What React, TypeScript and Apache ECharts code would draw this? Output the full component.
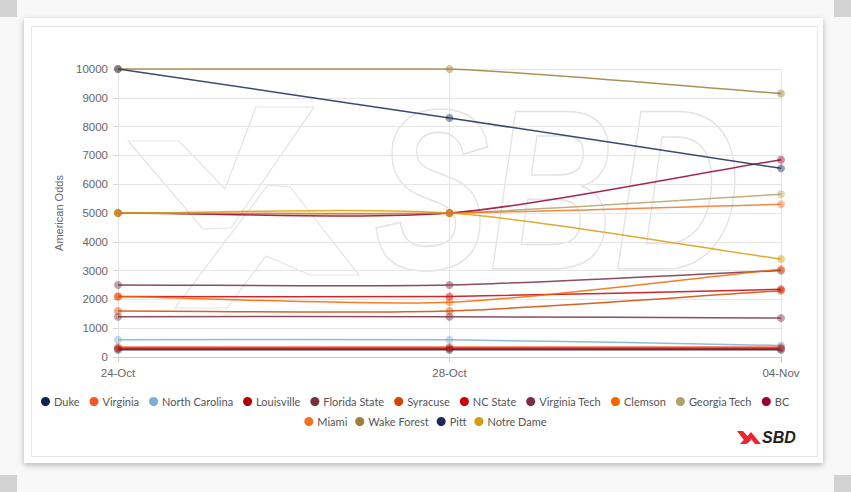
import React, { useEffect, useRef } from "react";
import * as echarts from "echarts";

const categories = ["24-Oct", "28-Oct", "04-Nov"];
const teams = [
  "Duke", "Virginia", "North Carolina", "Louisville", "Florida State", "Syracuse", "NC State",
  "Virginia Tech", "Clemson", "Georgia Tech", "BC", "Miami", "Wake Forest", "Pitt", "Notre Dame",
];
const legendRow1 = teams.slice(0, 11);
const legendRow2 = teams.slice(11);
const teamColors = [
  "#0c2054", "#f1592a", "#7bafd4", "#ad0000", "#782f40", "#d44500", "#cc0000",
  "#7a2a44", "#f56600", "#b3a369", "#98002e", "#f47321", "#9e7e38", "#1c2957", "#d39f10",
];
const duke = [250, 250, 250];
const virginia = [350, 350, 350];
const northCarolina = [600, 600, 400];
const louisville = [300, 300, 300];
const floridaState = [1400, 1400, 1350];
const syracuse = [1600, 1600, 2300];
const ncState = [2100, 2100, 2350];
const virginiaTech = [2500, 2500, 3000];
const clemson = [2100, 1900, 3050];
const georgiaTech = [5000, 5000, 5650];
const bc = [5000, 5000, 6850];
const miami = [5000, 5000, 5300];
const wakeForest = [10000, 10000, 9150];
const pitt = [10000, 8300, 6550];
const notreDame = [5000, 5000, 3400];
const seriesValues = [
  duke, virginia, northCarolina, louisville, floridaState, syracuse, ncState,
  virginiaTech, clemson, georgiaTech, bc, miami, wakeForest, pitt, notreDame,
];
const yTicks = { min: 0, max: 10000, interval: 1000 };

const WM = "#e3e3e3";
const TENSION = 0.25;

function makeRenderItem(vals: number[], color: string) {
  return (params: any, api: any) => {
    const k = params.dataIndex;
    if (k >= vals.length - 1) return null;
    const pts = vals.map((v, j) => api.coord([j, v]));
    const top = params.coordSys.y;
    const bottom = params.coordSys.y + params.coordSys.height;
    const clampY = (y: number) => Math.max(top, Math.min(bottom, y));
    const ctrl = (j: number) => {
      const cur = pts[j];
      const prev = pts[j - 1] || cur;
      const next = pts[j + 1] || cur;
      const d01 = Math.hypot(cur[0] - prev[0], cur[1] - prev[1]);
      const d12 = Math.hypot(next[0] - cur[0], next[1] - cur[1]);
      const tot = d01 + d12 || 1;
      const fa = (TENSION * d01) / tot;
      const fb = (TENSION * d12) / tot;
      return {
        prev: [cur[0] - fa * (next[0] - prev[0]), clampY(cur[1] - fa * (next[1] - prev[1]))],
        next: [cur[0] + fb * (next[0] - prev[0]), clampY(cur[1] + fb * (next[1] - prev[1]))],
      };
    };
    const a = pts[k];
    const b = pts[k + 1];
    const c1 = ctrl(k).next;
    const c2 = ctrl(k + 1).prev;
    return {
      type: "bezierCurve",
      shape: { x1: a[0], y1: a[1], x2: b[0], y2: b[1], cpx1: c1[0], cpy1: c1[1], cpx2: c2[0], cpy2: c2[1] },
      style: { stroke: color, lineWidth: 1.5, fill: "none", opacity: 0.85 },
      silent: true,
    };
  };
}

export default function App() {
  const ref = useRef<HTMLDivElement>(null);
  useEffect(() => {
    if (!ref.current) return;
    const chart = echarts.init(ref.current, undefined, { renderer: "svg" });
    const pointSeries = teams.map((name, i) => ({
      name,
      type: "line",
      data: seriesValues[i],
      symbol: "circle",
      symbolSize: 8,
      lineStyle: { width: 0, opacity: 0 },
      itemStyle: { color: teamColors[i], opacity: 0.45 },
      emphasis: { disabled: true },
      z: 4,
    }));
    const curveSeries = teams.map((name, i) => ({
      name,
      type: "custom",
      data: seriesValues[i].map((v, j) => [j, v]),
      encode: { x: 0, y: 1 },
      renderItem: makeRenderItem(seriesValues[i], teamColors[i]),
      itemStyle: { color: teamColors[i] },
      z: 3,
    }));
    const legendBase = {
      icon: "circle",
      itemWidth: 9,
      itemHeight: 9,
      itemStyle: { opacity: 1 },
      textStyle: { color: "#555", fontSize: 11, fontFamily: "Lato", padding: [0, 0, 0, -1] },
    };
    chart.setOption({
      animation: false,
      color: teamColors,
      grid: { left: 118, right: 70, top: 69, bottom: 135 },
      xAxis: {
        type: "category",
        data: categories,
        boundaryGap: false,
        axisLine: { lineStyle: { color: "#c8c8c8" } },
        axisTick: { show: true, length: 5, lineStyle: { color: "#c8c8c8" } },
        axisLabel: { color: "#666", fontSize: 11.5, fontFamily: "Liberation Sans", margin: 10 },
        splitLine: { show: true, lineStyle: { color: "#e6e6e6" } },
      },
      yAxis: {
        type: "value",
        min: yTicks.min,
        max: yTicks.max,
        interval: yTicks.interval,
        name: "American Odds",
        nameLocation: "middle",
        nameRotate: 90,
        nameGap: 54,
        nameTextStyle: { color: "#666", fontSize: 11, fontFamily: "Liberation Sans" },
        axisLine: { show: false },
        axisTick: { show: true, length: 5, lineStyle: { color: "#d8d8d8" } },
        axisLabel: {
          color: "#666",
          fontSize: 11.5,
          fontFamily: "Liberation Sans",
          margin: 10,
          formatter: (v: number) => String(v),
        },
        splitLine: { lineStyle: { color: "#e6e6e6" } },
      },
      legend: [
        { ...legendBase, data: legendRow1, left: 36, top: 391, itemGap: 10 },
        { ...legendBase, data: legendRow2, left: "center", top: 411, itemGap: 8 },
      ],
      graphic: [
        {
          type: "group",
          silent: true,
          z: 0,
          children: [
            {
              type: "polygon",
              shape: { points: [[128, 141], [179, 141], [225, 189], [256, 107], [314, 107], [231, 228], [203, 229]] },
              style: { fill: "none", stroke: WM, lineWidth: 1.2 },
            },
            {
              type: "polygon",
              shape: { points: [[175, 308], [227, 308], [266, 256], [310, 275], [359, 275], [290, 187], [268, 185]] },
              style: { fill: "none", stroke: WM, lineWidth: 1.2 },
            },
            {
              type: "text",
              x: 374,
              y: 76,
              scaleX: 0.76,
              style: {
                text: "SBD",
                font: "italic bold 228px 'Liberation Sans'",
                fill: "none",
                stroke: WM,
                lineWidth: 1.6,
                textVerticalAlign: "top",
              },
            },
          ],
        },
        {
          type: "group",
          silent: true,
          children: [
            {
              type: "polygon",
              shape: { points: [[737, 431], [743, 431], [751, 440], [747, 444]] },
              style: { fill: "#e8262d" },
            },
            {
              type: "polygon",
              shape: { points: [[740, 444], [751, 432], [761, 444], [755, 444], [751, 439], [746, 444]] },
              style: { fill: "#e8262d" },
            },
            {
              type: "text",
              x: 762,
              y: 437,
              style: {
                text: "SBD",
                font: "italic bold 16px 'Liberation Sans'",
                fill: "#222",
                textVerticalAlign: "middle",
              },
            },
          ],
        },
      ],
      series: [...pointSeries, ...curveSeries],
    });
    return () => chart.dispose();
  }, []);

  const corner = (s: React.CSSProperties) => (
    <div style={{ position: "absolute", width: 17, height: 17, background: "#d2d2d2", ...s }} />
  );

  return (
    <div style={{ position: "fixed", left: 0, top: 0, width: 851, height: 492, background: "#f8f8f8", overflow: "hidden" }}>
      {corner({ left: 0, top: 0 })}
      {corner({ right: 0, top: 0 })}
      {corner({ left: 0, bottom: 0 })}
      {corner({ right: 0, bottom: 0 })}
      <div
        style={{
          position: "absolute",
          left: 24,
          top: 18,
          width: 799,
          height: 445,
          background: "#fff",
          boxShadow: "0 2px 6px rgba(0,0,0,0.28)",
        }}
      />
      <div
        style={{
          position: "absolute",
          left: 31,
          top: 26,
          width: 787,
          height: 431,
          border: "1px solid #e8e8e8",
          boxSizing: "border-box",
        }}
      />
      <div ref={ref} style={{ position: "absolute", left: 0, top: 0, width: 851, height: 492 }} />
    </div>
  );
}
